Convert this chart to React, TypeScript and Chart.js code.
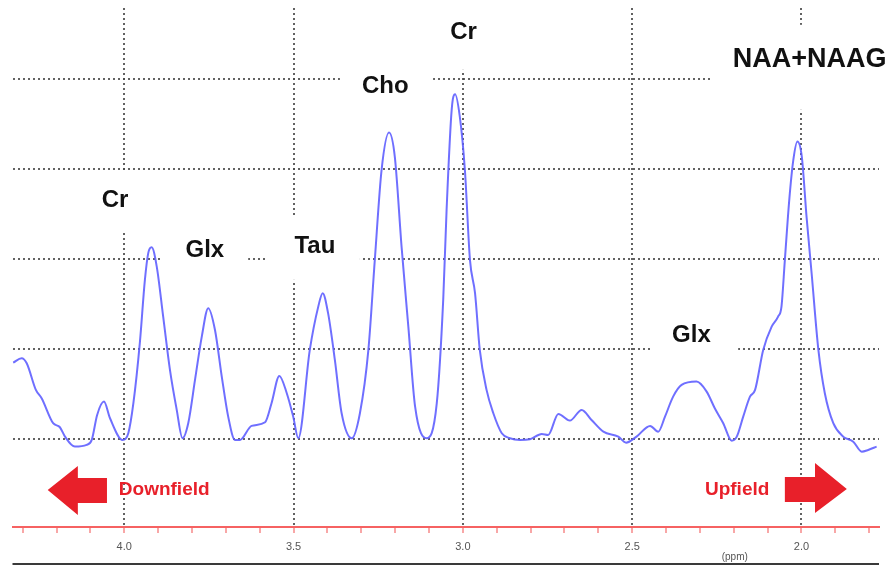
import { useEffect, useRef } from 'react';
import { Chart, registerables } from 'chart.js';

Chart.register(...registerables);

// chemical shift (ppm) and signal intensity of the spectrum trace
const ppm = [
  4.328, 4.303, 4.288, 4.261, 4.244, 4.21, 4.19, 4.175, 4.146, 4.111,
  4.096, 4.08, 4.06, 4.042, 4.005, 3.988, 3.973, 3.954, 3.939, 3.929,
  3.919, 3.904, 3.885, 3.865, 3.845, 3.828, 3.811, 3.791, 3.771, 3.752,
  3.732, 3.712, 3.693, 3.673, 3.658, 3.624, 3.584, 3.565, 3.542, 3.52,
  3.501, 3.486, 3.452, 3.427, 3.414, 3.398, 3.378, 3.358, 3.328, 3.304,
  3.279, 3.26, 3.24, 3.218, 3.201, 3.181, 3.161, 3.141, 3.107, 3.077,
  3.058, 3.048, 3.033, 3.023, 3.009, 2.994, 2.979, 2.964, 2.95, 2.93,
  2.91, 2.885, 2.861, 2.831, 2.802, 2.767, 2.748, 2.718, 2.684, 2.649,
  2.62, 2.585, 2.541, 2.518, 2.487, 2.447, 2.423, 2.403, 2.379, 2.354,
  2.31, 2.28, 2.256, 2.231, 2.206, 2.191, 2.172, 2.152, 2.137, 2.113,
  2.088, 2.069, 2.059, 2.049, 2.036, 2.024, 2.012, 1.999, 1.985, 1.97,
  1.95, 1.931, 1.906, 1.877, 1.847, 1.822, 1.803, 1.778,
];
const intensity = [
  0.851, 0.9, 0.844, 0.548, 0.456, 0.178, 0.133, 0.029, -0.082, -0.063,
  -0.008, 0.27, 0.418, 0.233, -0.008, 0.067, 0.4, 1.067, 1.77, 2.07,
  2.133, 1.918, 1.362, 0.77, 0.326, 0.011, 0.178, 0.659, 1.14, 1.456,
  1.214, 0.696, 0.251, -0.008, -0.008, 0.148, 0.189, 0.4, 0.703, 0.511,
  0.251, 0.011, 0.992, 1.473, 1.622, 1.4, 0.881, 0.289, 0.011, 0.289,
  0.992, 1.992, 2.992, 3.407, 3.14, 2.14, 1.251, 0.362, 0.011, 0.4,
  1.548, 2.548, 3.659, 3.833, 3.584, 2.992, 1.992, 1.622, 0.992, 0.548,
  0.289, 0.067, 0.011, -0.008, 0, 0.059, 0.048, 0.281, 0.207, 0.326,
  0.214, 0.084, 0.029, -0.038, 0.029, 0.148, 0.084, 0.251, 0.473, 0.603,
  0.64, 0.529, 0.344, 0.178, -0.016, 0.029, 0.251, 0.473, 0.548, 0.992,
  1.251, 1.362, 1.473, 1.992, 2.659, 3.103, 3.307, 3.14, 2.473, 1.844,
  0.992, 0.511, 0.178, 0.029, -0.027, -0.138, -0.119, -0.082,
];

// axis
const ppmMin = 1.771;
const ppmMax = 4.33;
const valueMin = -0.975;
const valueMax = 4.79;
const majorTicks = [4.0, 3.5, 3.0, 2.5, 2.0];
const axisUnit = '(ppm)';

// metabolite labels
const peakLabels = ['Cr', 'Glx', 'Tau', 'Cho', 'Cr', 'NAA+NAAG', 'Glx'];
const labelPpm = [4.027, 3.762, 3.437, 3.229, 2.998, 1.976, 2.325];
const labelValue = [2.581, 2.026, 2.07, 3.848, 4.448, 4.137, 1.081];
const labelSize = [24, 24, 24, 24, 24, 27, 24];
// white text boxes behind labels: [ppmLeft, ppmRight, valueTop, valueBottom]
const labelBoxes: [number, number, number, number][] = [
  [4.072, 3.954, 2.97, 2.303],
  [3.889, 3.634, 2.381, 1.903],
  [3.576, 3.304, 2.459, 1.77],
  [3.363, 3.088, 4.27, 3.77],
  [3.068, 2.921, 4.9, 4.103],
  [2.264, 1.7, 4.603, 3.659],
  [2.447, 2.187, 1.381, 0.859],
];

// direction annotations
const directionText = ['Downfield', 'Upfield'];
const directionPpm = [4.016, 2.285];
const directionValue = [-0.619, -0.619];
// arrow outlines [ppm, value]
const arrowLeft: [number, number][] = [
  [4.226, -0.563], [4.137, -0.297], [4.137, -0.43], [4.051, -0.43],
  [4.051, -0.708], [4.137, -0.708], [4.137, -0.841],
];
const arrowRight: [number, number][] = [
  [1.866, -0.552], [1.96, -0.263], [1.96, -0.419], [2.049, -0.419],
  [2.049, -0.697], [1.96, -0.697], [1.96, -0.819],
];

const RED = '#e8202a';

const overlayPlugin = {
  id: 'overlay',
  beforeDatasetsDraw(chart: any) {
    const { ctx, scales } = chart;
    const xs = scales.x;
    const ys = scales.y;
    ctx.save();
    ctx.fillStyle = '#ffffff';
    labelBoxes.forEach(([a, b, c, d]) => {
      const x0 = xs.getPixelForValue(a);
      const x1 = xs.getPixelForValue(b);
      const y0 = ys.getPixelForValue(c);
      const y1 = ys.getPixelForValue(d);
      ctx.fillRect(Math.min(x0, x1), Math.min(y0, y1), Math.abs(x1 - x0), Math.abs(y1 - y0));
    });
    ctx.fillStyle = '#111111';
    ctx.textAlign = 'center';
    ctx.textBaseline = 'alphabetic';
    peakLabels.forEach((t, i) => {
      ctx.font = `bold ${labelSize[i]}px "Liberation Sans", Arial, sans-serif`;
      ctx.fillText(t, xs.getPixelForValue(labelPpm[i]), ys.getPixelForValue(labelValue[i]));
    });

    // arrows
    ctx.fillStyle = RED;
    [arrowLeft, arrowRight].forEach((poly) => {
      ctx.beginPath();
      poly.forEach(([p, v], k) => {
        const px = xs.getPixelForValue(p);
        const py = ys.getPixelForValue(v);
        if (k === 0) ctx.moveTo(px, py);
        else ctx.lineTo(px, py);
      });
      ctx.closePath();
      ctx.fill();
    });
    ctx.font = 'bold 19px "Liberation Sans", Arial, sans-serif';
    ctx.textAlign = 'left';
    directionText.forEach((t, i) => {
      ctx.fillText(t, xs.getPixelForValue(directionPpm[i]), ys.getPixelForValue(directionValue[i]));
    });
    ctx.restore();
  },
  afterDraw(chart: any) {
    const { ctx, chartArea, scales } = chart;
    const xs = scales.x;
    ctx.save();
    ctx.fillStyle = '#555555';
    ctx.font = '10px "Liberation Sans", Arial, sans-serif';
    ctx.textAlign = 'center';
    ctx.textBaseline = 'middle';
    ctx.fillText(axisUnit, xs.getPixelForValue(2.197), chartArea.bottom + 30);
    ctx.strokeStyle = '#3a3a3a';
    ctx.lineWidth = 2;
    ctx.beginPath();
    ctx.moveTo(chartArea.left, chartArea.bottom + 37);
    ctx.lineTo(chartArea.right, chartArea.bottom + 37);
    ctx.stroke();
    ctx.restore();
  },
};

const isMajor = (v: number) => majorTicks.some((m) => Math.abs(m - v) < 1e-6);

export default function App() {
  const ref = useRef<HTMLCanvasElement | null>(null);

  useEffect(() => {
    document.body.style.margin = '0';
    const canvas = ref.current;
    if (!canvas) return;
    const chart = new Chart(canvas, {
      type: 'line',
      data: {
        datasets: [
          {
            data: ppm.map((p, i) => ({ x: p, y: intensity[i] })),
            borderColor: 'rgba(95,95,255,0.9)',
            borderWidth: 2,
            pointRadius: 0,
            cubicInterpolationMode: 'monotone',
            fill: false,
          },
        ],
      },
      options: {
        responsive: false,
        animation: false,
        devicePixelRatio: 1,
        layout: { padding: { left: 12.5, right: 12, top: 8, bottom: 0 } },
        plugins: {
          legend: { display: false },
          tooltip: { enabled: false },
        },
        scales: {
          x: {
            type: 'linear',
            reverse: true,
            min: ppmMin,
            max: ppmMax,
            afterFit: (s: any) => {
              s.height = 40;
            },
            ticks: {
              stepSize: 0.1,
              includeBounds: false,
              autoSkip: false,
              maxRotation: 0,
              padding: 7,
              color: '#555555',
              font: { size: 11, family: '"Liberation Sans Narrow", "Liberation Sans", Arial, sans-serif' },
              callback: (v: any) => (isMajor(Number(v)) ? Number(v).toFixed(1) : ''),
            },
            grid: {
              color: (c: any) => (c.tick && isMajor(c.tick.value) ? 'rgba(70,70,70,0.85)' : 'rgba(0,0,0,0)'),
              lineWidth: 2,
              tickColor: 'rgba(240,60,60,0.9)',
              tickWidth: 1,
              tickLength: 6,
              tickBorderDash: [],
            },
            border: { display: true, color: 'rgba(245,70,70,0.85)', width: 2, dash: [2, 3] },
          },
          y: {
            type: 'linear',
            min: valueMin,
            max: valueMax,
            afterFit: (s: any) => {
              s.width = 0;
            },
            ticks: { display: false, stepSize: 1, includeBounds: false },
            grid: { color: 'rgba(70,70,70,0.85)', lineWidth: 2, drawTicks: false },
            border: { display: false, dash: [2, 3] },
          },
        },
      },
      plugins: [overlayPlugin],
    } as any);
    return () => chart.destroy();
  }, []);

  return (
    <div style={{ width: 891, height: 567 }}>
      <canvas ref={ref} width={891} height={567} style={{ display: 'block' }} />
    </div>
  );
}
